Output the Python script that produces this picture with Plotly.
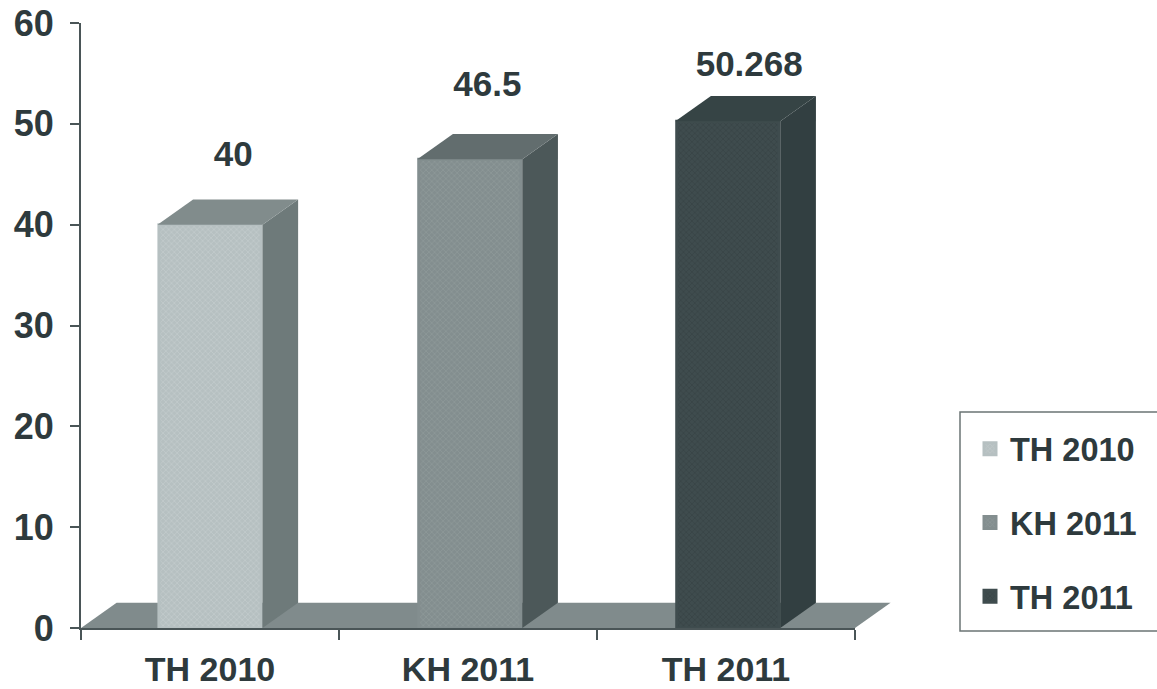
import plotly.graph_objects as go

categories = ["TH 2010", "KH 2011", "TH 2011"]
values = [40, 46.5, 50.268]
value_labels = ["40", "46.5", "50.268"]
label_heights = [46.7, 53.6, 55.6]
label_shifts = [0.09, 0.075, 0.09]
bar_shifts = [0.0, 0.007, 0.007]
front_colors = ["#b6c0c1", "#838e8f", "#3f4c4e"]
pattern_colors = ["#cfd6d6", "#9aa3a4", "#2f3b3d"]
side_colors = ["#6e7a7a", "#4c5859", "#323f41"]
top_colors = ["#818c8c", "#626d6e", "#364445"]

BAR_W = 0.396
BAR_LINE = 3
DX = 0.138
DY = 2.5
TEXT = "#2e3a3d"
FONT = "Liberation Sans, Arial, sans-serif"
positions = list(range(len(categories)))

fig = go.Figure()
for i, (name, v) in enumerate(zip(categories, values)):
    c = i + bar_shifts[i]
    fig.add_trace(go.Bar(
        x=[c], y=[v], width=BAR_W, name=name, legendgroup=f"g{i}",
        marker=dict(color=front_colors[i], line=dict(width=BAR_LINE, color=front_colors[i]),
                    pattern=dict(shape="x", size=4, solidity=0.35,
                                 fgcolor=pattern_colors[i], bgcolor=front_colors[i])),
        hoverinfo="skip",
    ))
    half = 0.407 / 2
    l, r = c - half, c + half
    fig.add_trace(go.Scatter(
        x=[r, r + DX, r + DX, r, r], y=[0, DY, v + DY, v, 0], mode="lines",
        fill="toself", fillcolor=side_colors[i], line_width=0,
        showlegend=False, hoverinfo="skip"))
    fig.add_trace(go.Scatter(
        x=[l, l + DX, r + DX, r, l], y=[v, v + DY, v + DY, v, v], mode="lines",
        fill="toself", fillcolor=top_colors[i], line_width=0,
        showlegend=False, hoverinfo="skip"))

fig.add_trace(go.Scatter(
    x=[p + s for p, s in zip(positions, label_shifts)], y=label_heights,
    mode="text", text=value_labels,
    textfont=dict(size=35, color=TEXT, family=FONT, weight="bold"),
    showlegend=False, hoverinfo="skip"))

PLOT_W, PLOT_H = 774, 605
fig.update_layout(
    width=1157, height=689, autosize=False, barmode="overlay",
    paper_bgcolor="white", plot_bgcolor="white",
    margin=dict(l=81, r=302, t=23, b=61),
    font=dict(family=FONT, color=TEXT),
    shapes=[
        dict(type="path", layer="below", xref="paper", yref="paper",
             path=f"M 0 0 L {DX/3} {DY/60} L {1+DX/3} {DY/60} L 1 0 Z",
             fillcolor="#808b8c", line_width=0),
        dict(type="rect", layer="below", xref="paper", yref="paper",
             x0=(960-81)/PLOT_W, x1=(1175-81)/PLOT_W,
             y0=(628-631)/PLOT_H, y1=(628-412)/PLOT_H,
             fillcolor="white", line=dict(color="#6b7474", width=1.5)),
    ],
    legend=dict(xref="container", yref="container", x=970/1157, y=1-421/689,
                xanchor="left", yanchor="top", bgcolor="rgba(0,0,0,0)",
                borderwidth=0, tracegroupgap=28.5, itemwidth=30,
                font=dict(size=32.5, color=TEXT, family=FONT, weight="bold")),
)
fig.update_xaxes(
    automargin=False,
    range=[-0.5, 2.5], tickmode="array", tickvals=positions, ticktext=categories,
    ticks="", showgrid=False, zeroline=False, showline=True, linecolor="#4a5557", linewidth=2,
    tickfont=dict(size=34, color=TEXT, family=FONT, weight="bold"),
    minor=dict(tickmode="array", tickvals=[-0.5, 0.5, 1.5, 2.5], ticks="outside",
               ticklen=10, tickwidth=1.5, tickcolor="#4a5557", showgrid=False),
    ticklabelstandoff=10,
)
fig.update_yaxes(
    automargin=False,
    range=[0, 60], tickmode="array", tickvals=[0, 10, 20, 30, 40, 50, 60],
    ticks="outside", ticklen=9, tickwidth=1.5, tickcolor="#4a5557",
    showgrid=False, zeroline=False, showline=True, linecolor="#4a5557", linewidth=2,
    tickfont=dict(size=36, color=TEXT, family=FONT, weight="bold"),
    ticklabelstandoff=9,
)

fig.write_html("out.html", config={"displayModeBar": False},
               post_script="document.body.style.margin='0';")
